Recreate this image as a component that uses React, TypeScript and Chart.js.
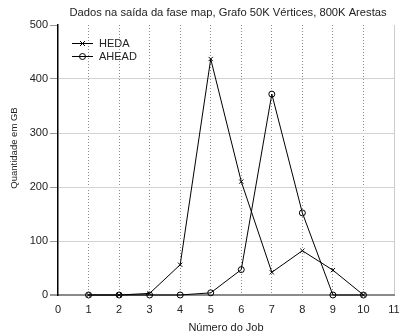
import React, { useEffect, useRef } from "react";
import { Chart, registerables } from "chart.js";

Chart.register(...registerables);

const jobs = [1, 2, 3, 4, 5, 6, 7, 8, 9, 10];
const hedaValues = [0, 0, 3, 56, 437, 210, 42, 82, 46, 0];
const aheadValues = [0, 0, 0, 0, 4, 47, 372, 152, 0, 0];
const seriesNames = ["HEDA", "AHEAD"];
const chartTitle = "Dados na saída da fase map, Grafo 50K Vértices, 800K Arestas";
const xTitle = "Número do Job";
const yTitle = "Quantidade em GB";

const FONT = '"Liberation Sans", Arial, sans-serif';

const textPlugin = {
  id: "customText",
  afterDraw(chart: any) {
    const ctx = chart.ctx;
    const area = chart.chartArea;
    ctx.save();
    ctx.fillStyle = "#222";
    ctx.textBaseline = "middle";
    ctx.textAlign = "center";
    ctx.font = `11.2px ${FONT}`;
    ctx.fillText(chartTitle, (area.left + area.right) / 2 + 2, 13);
    ctx.font = `11px ${FONT}`;
    ctx.fillText(xTitle, (area.left + area.right) / 2, 328);
    ctx.save();
    ctx.translate(14, 148);
    ctx.rotate(-Math.PI / 2);
    ctx.font = `9.5px ${FONT}`;
    ctx.fillText(yTitle, 0, 0);
    ctx.restore();

    // legend
    ctx.font = `11px ${FONT}`;
    const styles = ["crossRot", "circle"];
    seriesNames.forEach((name, i) => {
      const y = 43 + i * 13;
      ctx.strokeStyle = "#000";
      ctx.lineWidth = 1;
      ctx.beginPath();
      ctx.moveTo(72, y + 0.5);
      ctx.lineTo(93, y + 0.5);
      ctx.stroke();
      const cx = 82.5;
      if (styles[i] === "crossRot") {
        ctx.beginPath();
        ctx.moveTo(cx - 2.5, y - 2);
        ctx.lineTo(cx + 2.5, y + 3);
        ctx.moveTo(cx + 2.5, y - 2);
        ctx.lineTo(cx - 2.5, y + 3);
        ctx.stroke();
      } else {
        ctx.beginPath();
        ctx.arc(cx, y + 0.5, 3, 0, Math.PI * 2);
        ctx.stroke();
      }
      ctx.textAlign = "left";
      ctx.fillStyle = "#222";
      ctx.fillText(name, 99, y + 1);
    });
    ctx.restore();
  },
};

export default function App() {
  const ref = useRef<HTMLCanvasElement | null>(null);
  useEffect(() => {
    const canvas = ref.current!;
    const chart = new Chart(canvas, {
      type: "line",
      data: {
        datasets: [
          {
            label: seriesNames[0],
            data: jobs.map((j, i) => ({ x: j, y: hedaValues[i] })),
            borderColor: "#000",
            borderWidth: 1,
            pointStyle: "crossRot",
            pointRadius: 3,
            pointBorderColor: "#000",
            pointBorderWidth: 1,
            backgroundColor: "transparent",
            tension: 0,
            clip: false,
          },
          {
            label: seriesNames[1],
            data: jobs.map((j, i) => ({ x: j, y: aheadValues[i] })),
            borderColor: "#000",
            borderWidth: 1,
            pointStyle: "circle",
            pointRadius: 3,
            pointBorderColor: "#000",
            pointBackgroundColor: "transparent",
            pointBorderWidth: 1,
            backgroundColor: "transparent",
            tension: 0,
            clip: false,
          },
        ],
      },
      options: {
        responsive: false,
        animation: false,
        devicePixelRatio: 1,
        layout: { padding: { top: 25, right: 6, left: 0, bottom: 0 } },
        plugins: {
          legend: { display: false },
          title: { display: false },
          tooltip: { enabled: false },
        },
        scales: {
          x: {
            type: "linear",
            min: 0,
            max: 11,
            ticks: {
              stepSize: 1,
              padding: 8,
              color: "#222",
              font: { family: FONT, size: 11 },
              maxRotation: 0,
              autoSkip: false,
            },
            grid: {
              drawTicks: false,
              color: (c: any) => {
                const v = c.tick?.value;
                if (v === 0) return "rgba(0,0,0,0)";
                if (v === 11) return "#cccccc";
                return "#8c8c8c";
              },
              lineWidth: 1,
            },
            border: {
              display: true,
              color: "#8a8a8a",
              width: 2,
              dash: (c: any) => {
                const v = c.tick?.value;
                if (v === undefined || v === 11) return [];
                return [1, 2];
              },
            },
            afterFit(scale: any) {
              scale.height = 39;
              scale.paddingLeft = 0;
              scale.paddingRight = 0;
            },
          },
          y: {
            type: "linear",
            min: 0,
            max: 500,
            ticks: {
              stepSize: 100,
              padding: 2,
              color: "#222",
              font: { family: FONT, size: 11 },
            },
            grid: {
              drawTicks: true,
              tickLength: 8,
              tickColor: "#999",
              color: (c: any) => {
                const v = c.tick?.value;
                if (v === 0) return "#8a8a8a";
                if (v === 500) return "rgba(0,0,0,0)";
                return "#d2d2d2";
              },
              lineWidth: (c: any) => (c.tick?.value === 0 ? 2 : 1),
            },
            border: { display: true, color: "#000", width: 1.5 },
            afterFit(scale: any) {
              scale.width = 58;
              scale.paddingTop = 0;
              scale.paddingBottom = 0;
            },
          },
        },
      },
      plugins: [textPlugin],
    } as any);
    return () => chart.destroy();
  }, []);
  return (
    <div style={{ position: "absolute", left: 0, top: 0, width: 400, height: 334, background: "#fff" }}>
      <canvas ref={ref} width={400} height={334} style={{ width: 400, height: 334, display: "block" }} />
    </div>
  );
}
